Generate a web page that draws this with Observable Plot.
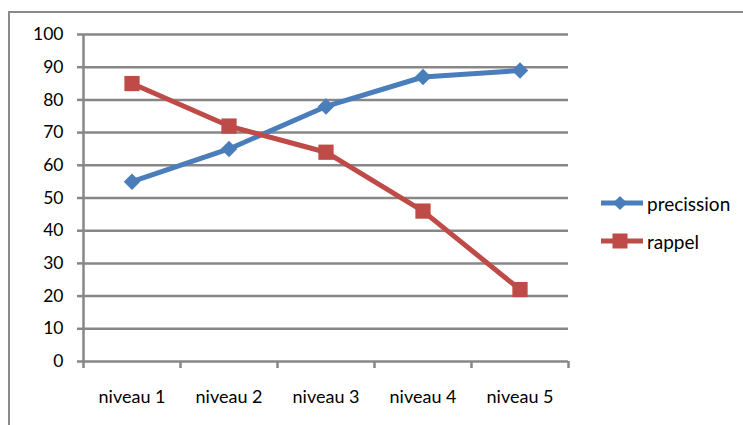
<!DOCTYPE html>
<html><head><meta charset="utf-8">
<script src="https://cdn.jsdelivr.net/npm/d3@7"></script>
<script src="https://cdn.jsdelivr.net/npm/@observablehq/plot@0.6"></script>
<style>
body{margin:0;background:#fff;font-family:Lato,"Noto Sans",sans-serif;}
#wrap{position:relative;width:743px;height:425px;overflow:hidden;}
#frame{position:absolute;left:8px;top:11px;width:745px;height:430px;border:2px solid #8a8a8a;box-sizing:border-box;}
#chart{position:absolute;left:0;top:0;}
#legend{position:absolute;left:600px;top:184px;font-size:19px;color:#000;}
.item{display:flex;align-items:center;height:38px;}
.item svg{margin-right:3px;}
</style></head>
<body><div id="wrap"><div id="frame"></div><div id="chart"></div><div id="legend"></div></div>
<script>
const categories = ["niveau 1","niveau 2","niveau 3","niveau 4","niveau 5"];
const precission = [55, 65, 78, 87, 89];
const rappel = [85, 72, 64, 46, 22];
const seriesNames = ["precission","rappel"];
const colors = ["#4a7ebb","#be4b48"];
const yTicks = d3.range(0, 101, 10);

const data = [];
categories.forEach((c,i)=>{
  data.push({s:"precission", i:i+0.5, v:precission[i]});
  data.push({s:"rappel", i:i+0.5, v:rappel[i]});
});

const plot = Plot.plot({
  width: 743, height: 425,
  marginLeft: 83, marginRight: 175, marginTop: 34, marginBottom: 64,
  style:{fontFamily:"Lato, 'Noto Sans', sans-serif", fontSize:"17px", color:"#000", background:"transparent"},
  x:{domain:[0, categories.length], axis:null},
  y:{domain:[0,100], axis:null},
  marks:[
    Plot.ruleY(yTicks, {stroke:"#878787", strokeWidth:2.5}),
    Plot.ruleX([0], {y1:0, y2:100, stroke:"#878787", strokeWidth:2.5}),
    Plot.axisY({ticks:yTicks, tickSize:6, tickPadding:14, stroke:"#878787", strokeWidth:2.5, strokeOpacity:1, label:null, fontSize:17.5, fill:"#000"}),
    Plot.axisX({ticks:d3.range(0, categories.length+1), tickSize:7, tickFormat:()=>"", stroke:"#878787", strokeWidth:2.5, strokeOpacity:1, label:null}),
    Plot.axisX({ticks:categories.map((c,i)=>i+0.5), tickSize:0, tickPadding:29, tickFormat:(d)=>categories[Math.floor(d)], label:null, fontSize:18, fill:"#000"}),
    Plot.line(data.filter(d=>d.s==="precission"), {x:"i", y:"v", stroke:colors[0], strokeWidth:5}),
    Plot.line(data.filter(d=>d.s==="rappel"), {x:"i", y:"v", stroke:colors[1], strokeWidth:5}),
    Plot.dot(data.filter(d=>d.s==="precission"), {x:"i", y:"v", symbol:"square", rotate:45, r:6.6, fill:colors[0], stroke:"none"}),
    Plot.dot(data.filter(d=>d.s==="rappel"), {x:"i", y:"v", symbol:"square", r:8.6, fill:colors[1], stroke:"none"})
  ]
});
document.getElementById("chart").appendChild(plot);

const leg = document.getElementById("legend");
seriesNames.forEach((n,k)=>{
  const div = document.createElement("div");
  div.className="item";
  const mk = k===0
    ? `<rect x="15" y="4" width="10" height="10" fill="${colors[0]}" transform="rotate(45 20 9)"/>`
    : `<rect x="12.5" y="1.5" width="15" height="15" fill="${colors[1]}"/>`;
  div.innerHTML = `<svg width="44" height="18"><line x1="1" x2="43" y1="9" y2="9" stroke="${colors[k]}" stroke-width="5"/>${mk}</svg><span>${n}</span>`;
  leg.appendChild(div);
});
</script></body></html>
